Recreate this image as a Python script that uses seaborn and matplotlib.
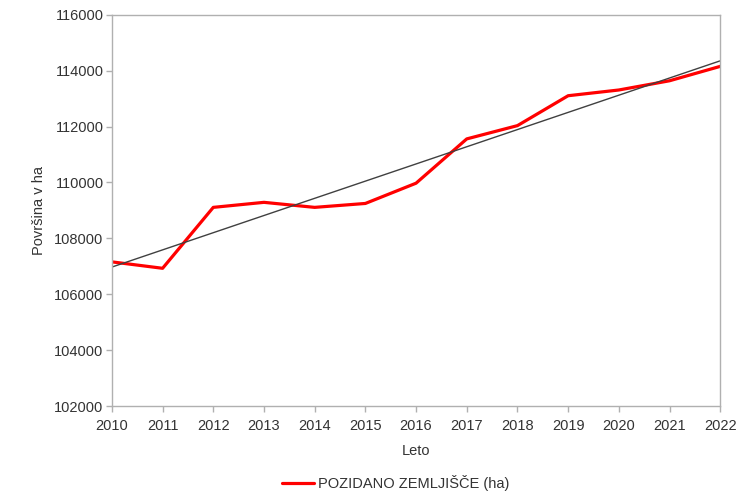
import numpy as np
import pandas as pd
import matplotlib
matplotlib.use("Agg")
import matplotlib.pyplot as plt
import seaborn as sns

# data
years = [2010, 2011, 2012, 2013, 2014, 2015, 2016, 2017, 2018, 2019, 2020, 2021, 2022]
built_land_ha = [107160, 106930, 109110, 109290, 109110, 109250, 109975,
                 111560, 112035, 113105, 113310, 113640, 114155]
series_label = "POZIDANO ZEMLJIŠČE (ha)"

df = pd.DataFrame({"Leto": years, "ha": built_land_ha})

sns.set_style("white")
plt.rcParams["font.family"] = ["Liberation Sans", "DejaVu Sans"]

fig = plt.figure(figsize=(7.51, 4.94), dpi=100)
ax = fig.add_axes([0.149, 0.178, 0.81, 0.792])

sns.lineplot(data=df, x="Leto", y="ha", ax=ax, color="#ff0000",
             linewidth=2.3, label=series_label, legend=False)

# linear trend line
sns.regplot(data=df, x="Leto", y="ha", ax=ax, scatter=False, ci=None,
            line_kws={"color": "#404040", "linewidth": 1.0})

ax.set_xlim(2010, 2022)
ax.set_ylim(102000, 116000)
ax.set_xticks(years)
ax.set_yticks(np.arange(102000, 116001, 2000))

txt = "#333333"
fs = 10.5
for s in ax.spines.values():
    s.set_color("#b0b0b0")
    s.set_linewidth(1.0)
ax.tick_params(axis="both", direction="out", length=4, width=1,
               bottom=True, left=True,
               color="#b0b0b0", labelsize=fs, labelcolor=txt, pad=2)
ax.tick_params(axis="x", pad=5)

ax.set_xlabel("Leto", fontsize=fs, color=txt, labelpad=8)
ax.set_ylabel("Površina v ha", fontsize=fs, color=txt, labelpad=6)

handles, labels = ax.get_legend_handles_labels()
fig.legend(handles[:1], labels[:1], loc="center", bbox_to_anchor=(0.527, 0.022),
           frameon=False, fontsize=fs, labelcolor=txt, handlelength=2.2,
           handletextpad=0.3)

fig.savefig("out.png", dpi=100)
